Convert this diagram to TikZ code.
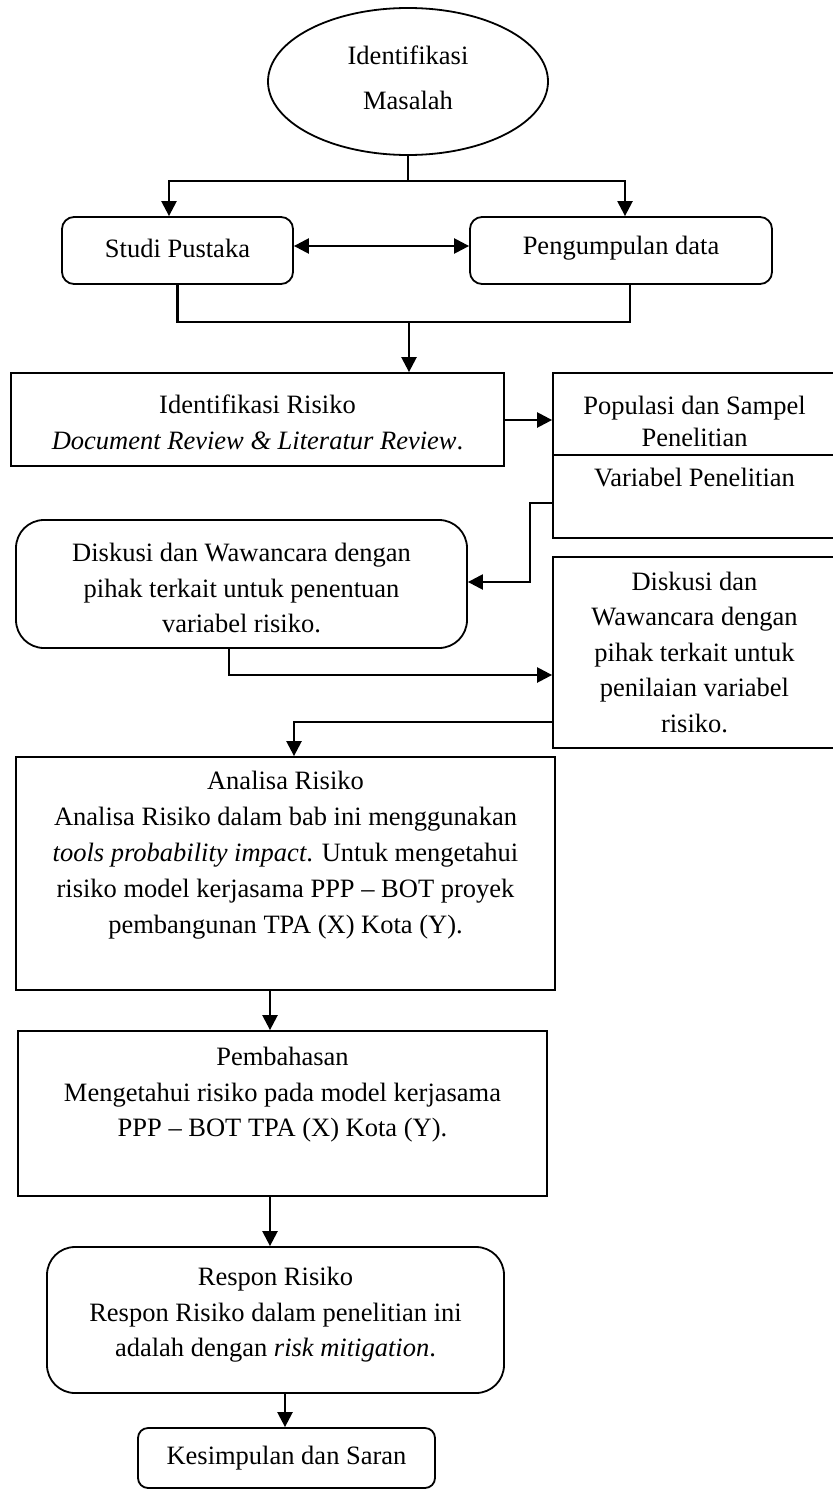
\documentclass[tikz,border=0pt]{standalone}
\usepackage{fontspec}
\setmainfont{Liberation Serif}
\usetikzlibrary{arrows.meta,shapes.geometric}
\tikzset{
  box/.style={draw, line width=1.8pt, inner sep=0pt},
  rbox/.style={box, rounded corners=#1},
  txt/.style={align=center, inner sep=0pt, font=\fontsize{26.5}{35.5}\selectfont},
  conn/.style={line width=2.4pt},
  arr/.style={conn, -{Triangle[length=15pt,width=15pt]}},
  darr/.style={conn, {Triangle[length=15pt,width=15pt]}-{Triangle[length=15pt,width=15pt]}}
}
\begin{document}
\begin{tikzpicture}[x=1pt,y=-1pt]
\useasboundingbox (0,0) rectangle (832,1490);
% shapes
\node[draw, line width=1.8pt, ellipse, inner sep=0pt, minimum width=280pt, minimum height=147pt] (ell) at (408,81.5) {};
\node[txt, font=\fontsize{26.5}{45}\selectfont] (ellt) at (408,77.5) {Identifikasi\\Masalah};

\node[rbox=12pt, minimum width=231pt, minimum height=67pt] (studi) at (177.5,250.5) {};
\node[txt] (studit) at (177.5,248) {Studi Pustaka};
\node[rbox=12pt, minimum width=302pt, minimum height=67pt] (peng) at (621,250.5) {};
\node[txt] (pengt) at (621,248) {Pengumpulan data};

\node[box, minimum width=493pt, minimum height=93pt] (idr) at (257.5,419.5) {};
\node[txt] (idrt) at (257.5,422.5) {Identifikasi Risiko\\\textit{Document Review \& Literatur Review}.};

\node[box, minimum width=283pt, minimum height=82pt] (pop) at (694.5,414) {};
\node[txt, font=\fontsize{26.5}{32}\selectfont] (popt) at (694.5,421) {Populasi dan Sampel\\Penelitian};
\node[box, minimum width=283pt, minimum height=83pt] (var) at (694.5,496.5) {};
\node[txt] (vart) at (694.5,478) {Variabel Penelitian};

\node[rbox=28pt, minimum width=451pt, minimum height=128pt] (ld) at (241.5,584) {};
\node[txt] (ldt) at (241.5,588) {Diskusi dan Wawancara dengan\\pihak terkait untuk penentuan\\variabel risiko.};

\node[box, minimum width=283pt, minimum height=191pt] (rd) at (694.5,652.5) {};
\node[txt] (rdt) at (694.5,652) {Diskusi dan\\Wawancara dengan\\pihak terkait untuk\\penilaian variabel\\risiko.};

\node[box, minimum width=539pt, minimum height=233pt] (an) at (285.5,873.5) {};
\node[txt, font=\fontsize{26.5}{36}\selectfont] (ant) at (285.5,855) {Analisa Risiko\\Analisa Risiko dalam bab ini menggunakan\\\textit{tools probability impact}. Untuk mengetahui\\risiko model kerjasama PPP -- BOT proyek\\pembangunan TPA (X) Kota (Y).};

\node[box, minimum width=529pt, minimum height=165pt] (pb) at (282.5,1113.5) {};
\node[txt] (pbt) at (282.5,1095) {Pembahasan\\Mengetahui risiko pada model kerjasama\\PPP -- BOT TPA (X) Kota (Y).};

\node[rbox=28pt, minimum width=457pt, minimum height=146pt] (rs) at (275.5,1320) {};
\node[txt] (rst) at (275.5,1315) {Respon Risiko\\Respon Risiko dalam penelitian ini\\adalah dengan \textit{risk mitigation}.};

\node[rbox=10pt, minimum width=297pt, minimum height=60pt] (ks) at (286.5,1458) {};
\node[txt] (kst) at (286.5,1458) {Kesimpulan dan Saran};

% connectors
\coordinate (j1) at (408,181);
\coordinate (sL) at (169,181);
\coordinate (sR) at (625,181);
\draw[conn] (ell.south) -- (j1);
\draw[arr] (j1) -- (sL) -- (sL |- studi.north);
\draw[arr] (j1) -- (sR) -- (sR |- peng.north);

\coordinate (j2) at (0,246);
\draw[darr] (studi.east |- j2) -- (peng.west |- j2);

\coordinate (bR) at (630,322);
\coordinate (b1) at (409,322);
\draw[conn] (studi.south) |- (bR) -- (bR |- peng.south);
\draw[arr] (b1) -- (b1 |- idr.north);

\coordinate (ya) at (0,420);
\draw[arr] (idr.east |- ya) -- (pop.west |- ya);

\coordinate (v1) at (530,503);
\coordinate (v2) at (530,582);
\draw[arr] (var.west |- v1) -- (v1) -- (v2) -- (ld.east |- v2);

\coordinate (d1) at (229,675);
\draw[arr] (ld.south -| d1) -- (d1) -- (rd.west |- d1);

\coordinate (d2) at (294,722);
\draw[arr] (rd.west |- d2) -- (d2) -- (d2 |- an.north);

\coordinate (p1) at (270,0);
\draw[arr] (an.south -| p1) -- (pb.north -| p1);
\draw[arr] (pb.south -| p1) -- (rs.north -| p1);

\coordinate (p2) at (285,0);
\draw[arr] (rs.south -| p2) -- (ks.north -| p2);
\end{tikzpicture}
\end{document}
